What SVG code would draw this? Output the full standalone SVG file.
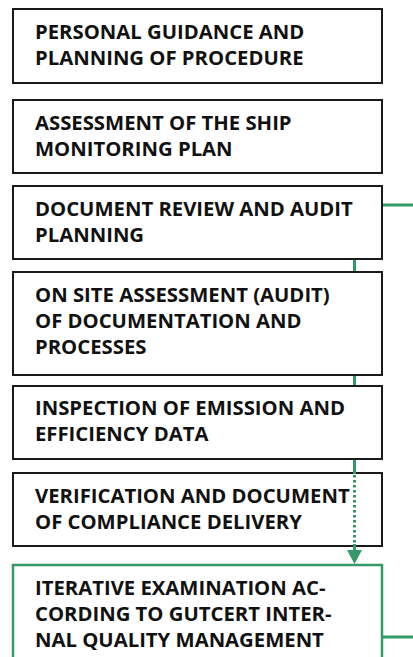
<svg xmlns="http://www.w3.org/2000/svg" width="413" height="657" viewBox="0 0 413 657">
<style>
.box{fill:#fff;stroke:#1a1a1a;stroke-width:2}
.gbox{fill:#fff;stroke:#339966;stroke-width:2.5}
.t{font-family:"Open Sans","Liberation Sans",sans-serif;font-weight:700;font-size:20.3px;fill:#111}
.c{stroke:#339966;stroke-width:3;fill:none}
.d{stroke:#339966;stroke-width:3;fill:none;stroke-dasharray:2.5 2.5}
</style>
<rect width="413" height="657" fill="#fff"/>
<g id="n1"><rect class="box" x="13" y="9" width="369" height="74"/>
<text class="t" x="35" y="39">PERSONAL GUIDANCE AND</text><text class="t" x="35" y="65">PLANNING OF PROCEDURE</text></g>
<g id="n2"><rect class="box" x="13" y="100" width="369" height="73"/>
<text class="t" x="35" y="130">ASSESSMENT OF THE SHIP</text><text class="t" x="35" y="156">MONITORING PLAN</text></g>
<g id="n3"><rect class="box" x="13" y="186" width="369" height="73"/>
<text class="t" x="35" y="216">DOCUMENT REVIEW AND AUDIT</text><text class="t" x="35" y="242">PLANNING</text></g>
<g id="n4"><rect class="box" x="13" y="272" width="369" height="103"/>
<text class="t" x="35" y="302">ON SITE ASSESSMENT (AUDIT)</text><text class="t" x="35" y="328">OF DOCUMENTATION AND</text><text class="t" x="35" y="354">PROCESSES</text></g>
<g id="n5"><rect class="box" x="13" y="386" width="369" height="73"/>
<text class="t" x="35" y="415">INSPECTION OF EMISSION AND</text><text class="t" x="35" y="441">EFFICIENCY DATA</text></g>
<g id="n6"><rect class="box" x="13" y="473" width="369" height="73"/>
<text class="t" x="35" y="503">VERIFICATION AND DOCUMENT</text><text class="t" x="35" y="529">OF COMPLIANCE DELIVERY</text></g>
<g id="n7"><rect class="gbox" x="13" y="565" width="369" height="110"/>
<text class="t" x="35" y="595">ITERATIVE EXAMINATION AC-</text><text class="t" x="35" y="621">CORDING TO GUTCERT INTER-</text><text class="t" x="35" y="647">NAL QUALITY MANAGEMENT</text></g>
<g id="connectors">
<path class="c" d="M383 205H413M383 637H413"/>
<path class="c" d="M354.5 260V271M354.5 376V385M354.5 460V474M354.5 544V552"/>
<path class="d" d="M354.5 475V544"/>
<polygon points="347,550 362,550 354.5,564" fill="#339966"/>
</g>
</svg>
